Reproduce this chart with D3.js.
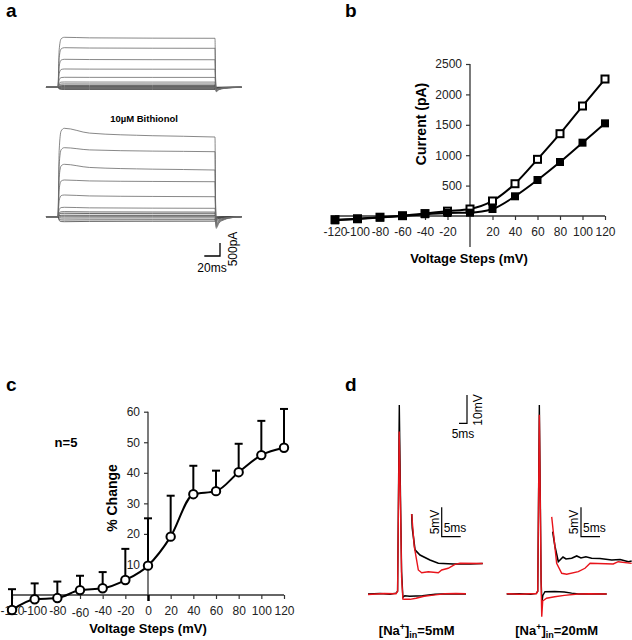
<!DOCTYPE html>
<html><head><meta charset="utf-8">
<script src="https://cdn.jsdelivr.net/npm/d3@7/dist/d3.min.js"></script>
<style>
html,body{margin:0;padding:0;background:#fff;}
svg{display:block;font-family:"Liberation Sans",Arial,Helvetica,sans-serif;}
</style></head>
<body>
<svg id="chart" width="632" height="640"></svg>
<script>
// ---------------- DATA ----------------
// Panel b: I-V relation
const voltages = [-120,-100,-80,-60,-40,-20,0,20,40,60,80,100,120];
const ivOpen   = [-60,-45,-20,5,40,80,115,247,531,932,1354,1809,2253];
const ivFilled = [-70,-50,-25,0,30,50,55,115,324,592,888,1206,1524];
const bYTicks = [500,1000,1500,2000,2500];
const bXTicks = [-120,-100,-80,-60,-40,-20,20,40,60,80,100,120];

// Panel c: % change (mean, upper SEM)
const pctMean = [-4.9,-1.4,-1.0,1.6,2.2,4.9,9.6,19.1,33.0,34.0,40.2,45.8,48.2];
const pctErr  = [6.8,5.2,5.4,4.7,5.3,10.2,15.5,13.4,9.3,6.7,9.3,11.2,12.7];
const cYTicks = [10,20,30,40,50,60];
const cXTicks = [-120,-100,-80,-60,-40,-20,0,20,40,60,80,100,120];

// Panel a: current traces (pA): level at step start, level at step end, tail peak
const ctrlStart = [1923,1523,1077,704,385,204,127,69,31,0,-27,-54,-85];
const ctrlEnd   = [1885,1500,1060,695,380,200,125,68,30,0,-27,-54,-85];
const ctrlTail  = [-170,-150,-130,-110,-90,-70,-55,-40,-30,-20,-10,-5,0];
const bithStart = [3400,2654,2015,1412,835,362,192,131,58,19,-50,-127,-192];
const bithEnd   = [3065,2500,1796,1346,769,323,177,115,50,15,-46,-115,-173];
const bithTail  = [-450,-400,-350,-300,-250,-200,-150,-110,-80,-50,-30,-15,0];
// shared step waveform template (ms) : rise and inactivation weights
const stepT     = [0,1.5,4,8,40,120,200];
const stepRise  = [0,0.75,0.97,1,1,1,1];
const stepDecay = [1,1,1,1,0.45,0.15,0];
const tailT     = [201.5,205,212,222,234];
const tailW     = [1,0.55,0.25,0.08,0];

// Panel d: action potentials [ms, mV rel. baseline]
const apL_ctrl = [[0,0],[7.5,0.2],[13.75,-0.1],[17.5,0.3],[18.5,1],[19.56,67.5],[20.3,35],[21.0,8],[21.8,-1.2],[23,-0.6],[26,-0.8],[34,-0.6],[42,-0.1],[51,0.1],[61.25,0]];
const apL_na   = [[0,-0.2],[10,0.2],[17.5,0.1],[18.5,1],[19.5,58],[20.3,32],[21.0,6],[21.8,-1.8],[23,-1.9],[26.25,-1.9],[30,-1.5],[35,-0.8],[42,-0.3],[48,0.1],[55,0.2],[61.25,0.1]];
const apR_ctrl = [[0,0],[8,0.1],[15,-0.1],[18.5,0.2],[19.4,1],[20.4,67.5],[21.0,35],[21.5,5],[22.0,-3],[22.6,-0.5],[23.9,0.8],[30,0.9],[36,0.7],[40.6,0.3],[45,0],[52,0.1],[62.5,0]];
const apR_na   = [[0,0.1],[8,-0.1],[15,0.1],[18.5,0.1],[19.4,1],[20.4,64],[21.0,32],[21.5,4],[21.9,-8.1],[22.5,-2.5],[24.9,-1.5],[30,-1.0],[36,-0.5],[44.6,0],[52,0.1],[62.5,0]];
// AHP insets [ms, mV]
const ahpL_ctrl = [[0,8.4],[0.16,6.0],[0.87,2.3],[2.18,1.44],[4.8,0.6],[7,0.03],[10.9,-0.08],[15.4,-0.08],[18.7,0]];
const ahpL_na   = [[0,8.4],[0.68,2.85],[1.74,-1.1],[2.63,-1.56],[4.37,-1.39],[7,-1.56],[7.9,-1.1],[9.6,-0.81],[11.4,-0.14],[12.7,0.03],[18.7,0]];
const ahpR_ctrl = [[0.26,5.4],[0.87,2.85],[1.74,0.3],[2.97,1.1],[3.76,0.76],[5.26,0.88],[6.58,1.27],[7.7,0.93],[9.0,1.15],[10.5,0.88],[12.7,0.85],[15.8,0.59],[18,0.68],[20.2,0.3],[21.05,0.42]];
const ahpR_na   = [[0,7.9],[1.3,0.03],[2.63,-1.66],[3.95,-1.83],[7.0,-1.39],[8.76,-0.81],[10.1,0.03],[16.2,-0.08],[17.5,0.3],[21.05,0.03]];

// ---------------- DRAW ----------------
const svg = d3.select("#chart");
svg.append("rect").attr("width",632).attr("height",640).attr("fill","#fff");
const FONT = '"Liberation Sans",Arial,Helvetica,sans-serif';
const fmt = d => String(d);

function panelLabel(t,x,y){
  svg.append("text").attr("x",x).attr("y",y).attr("font-size",19).attr("font-weight","bold").text(t);
}
panelLabel("a",6,17); panelLabel("b",345,17); panelLabel("c",6,391); panelLabel("d",345,391);

// ===== Panel a =====
const xA = d3.scaleLinear().domain([0,200]).range([58,215]);
const pxPerPA = 0.026;
function traceGroup(baseY, starts, ends, tails){
  const yA = d3.scaleLinear().domain([0,1000]).range([baseY, baseY-1000*pxPerPA]);
  const g = svg.append("g");
  const line = d3.line().x(d=>xA(d[0])).y(d=>yA(d[1])).curve(d3.curveMonotoneX);
  const order = d3.range(starts.length).reverse();
  order.forEach(i=>{
    const pts = [[-15.3,0],[-0.01,0]];
    stepT.forEach((t,k)=>{
      pts.push([t, stepRise[k]*(ends[i]+(starts[i]-ends[i])*stepDecay[k])]);
    });
    pts.push([200.6, ends[i]*0.3]);
    tailT.forEach((t,k)=>pts.push([t, tails[i]*tailW[k]]));
    g.append("path").attr("d",line(pts)).attr("fill","none")
      .attr("stroke", i<6 ? "#6a6a6a" : "#444").attr("stroke-width",0.8);
  });
  return yA;
}
traceGroup(87.3, ctrlStart, ctrlEnd, ctrlTail);
traceGroup(216.7, bithStart, bithEnd, bithTail);
svg.append("text").attr("x",144).attr("y",122).attr("text-anchor","middle")
  .attr("font-size",9.5).attr("font-weight","bold").text("10\u00B5M Bithionol");
// scale bar a
{
  const x1 = xA(200)+5, yb = 256;
  const x0 = x1-(xA(20)-xA(0));
  const top = yb-(500*pxPerPA);
  svg.append("path").attr("d",`M${x0},${yb}H${x1}V${top}`).attr("fill","none").attr("stroke","#000").attr("stroke-width",1.3);
  svg.append("text").attr("x",212).attr("y",271.5).attr("text-anchor","middle").attr("font-size",12).text("20ms");
  svg.append("text").attr("transform","translate(237,249) rotate(-90)").attr("text-anchor","middle").attr("font-size",12).text("500pA");
}

// ===== Panel b =====
const xB = d3.scaleLinear().domain([-120,120]).range([335,605]);
const yB = d3.scaleLinear().domain([0,2500]).range([216,64]);
const gb = svg.append("g");
gb.append("line").attr("x1",xB(-120)).attr("x2",xB(120)).attr("y1",yB(0)).attr("y2",yB(0)).attr("stroke","#333").attr("stroke-width",1.3);
gb.append("line").attr("x1",xB(0)).attr("x2",xB(0)).attr("y1",yB(2500)).attr("y2",yB(-510)).attr("stroke","#333").attr("stroke-width",1.3);
const axBx = gb.append("g").attr("transform",`translate(0,${yB(0)})`)
  .call(d3.axisBottom(xB).tickValues(bXTicks).tickSize(4).tickPadding(7).tickFormat(fmt));
const axBy = gb.append("g").attr("transform",`translate(${xB(0)},0)`)
  .call(d3.axisLeft(yB).tickValues(bYTicks).tickSize(4).tickPadding(4).tickFormat(fmt));
[axBx,axBy].forEach(a=>{a.select(".domain").remove();
  a.selectAll("line").attr("stroke","#333").attr("stroke-width",1.2);
  a.selectAll("text").attr("font-size",12).attr("font-family",FONT).attr("fill","#222");});
const lineB = d3.line().x((d,i)=>xB(voltages[i])).y(d=>yB(d)).curve(d3.curveMonotoneX);
gb.append("path").attr("d",lineB(ivOpen)).attr("fill","none").attr("stroke","#000").attr("stroke-width",2);
gb.append("path").attr("d",lineB(ivFilled)).attr("fill","none").attr("stroke","#000").attr("stroke-width",2);
gb.selectAll(".osq").data(ivOpen).enter().append("rect")
  .attr("x",(d,i)=>xB(voltages[i])-3.5).attr("y",d=>yB(d)-3.5).attr("width",7).attr("height",7)
  .attr("fill","#fff").attr("stroke","#000").attr("stroke-width",2);
gb.selectAll(".fsq").data(ivFilled).enter().append("rect")
  .attr("x",(d,i)=>xB(voltages[i])-4).attr("y",d=>yB(d)-4).attr("width",8).attr("height",8).attr("fill","#000");
gb.append("text").attr("transform","translate(426,124) rotate(-90)").attr("text-anchor","middle")
  .attr("font-size",14).attr("font-weight","bold").text("Current (pA)");
gb.append("text").attr("x",469).attr("y",263).attr("text-anchor","middle")
  .attr("font-size",13).attr("font-weight","bold").text("Voltage Steps (mV)");

// ===== Panel c =====
const xC = d3.scaleLinear().domain([-120,120]).range([12,284]);
const yC = d3.scaleLinear().domain([0,60]).range([595,411.7]);
const gc = svg.append("g");
gc.append("line").attr("x1",xC(-120)).attr("x2",xC(120)).attr("y1",yC(0)).attr("y2",yC(0)).attr("stroke","#333").attr("stroke-width",1.3);
gc.append("line").attr("x1",xC(0)).attr("x2",xC(0)).attr("y1",yC(60)).attr("y2",yC(0)).attr("stroke","#333").attr("stroke-width",1.3);
const axCx = gc.append("g").attr("transform",`translate(0,${yC(0)})`)
  .call(d3.axisBottom(xC).tickValues(cXTicks).tickSize(4).tickPadding(7).tickFormat(fmt));
const axCy = gc.append("g").attr("transform",`translate(${xC(0)},0)`)
  .call(d3.axisLeft(yC).tickValues(cYTicks).tickSize(4).tickPadding(4).tickFormat(fmt));
[axCx,axCy].forEach(a=>{a.select(".domain").remove();
  a.selectAll("line").attr("stroke","#333").attr("stroke-width",1.2);
  a.selectAll("text").attr("font-size",12).attr("font-family",FONT).attr("fill","#222");});
axCx.selectAll(".tick").filter(d=>d===0).select("line").attr("stroke","#000").attr("stroke-width",2.5).attr("y2",6);
axCx.selectAll(".tick").filter(d=>d===-60).select("text").attr("y",13.5);
pctMean.forEach((m,i)=>{
  const x = xC(voltages[i]);
  gc.append("line").attr("x1",x).attr("x2",x).attr("y1",yC(m)).attr("y2",yC(m+pctErr[i])).attr("stroke","#000").attr("stroke-width",2);
  gc.append("line").attr("x1",x-4).attr("x2",x+4).attr("y1",yC(m+pctErr[i])).attr("y2",yC(m+pctErr[i])).attr("stroke","#000").attr("stroke-width",2);
});
const lineC = d3.line().x((d,i)=>xC(voltages[i])).y(d=>yC(d)).curve(d3.curveMonotoneX);
gc.append("path").attr("d",lineC(pctMean)).attr("fill","none").attr("stroke","#000").attr("stroke-width",2);
gc.selectAll(".circ").data(pctMean).enter().append("circle")
  .attr("cx",(d,i)=>xC(voltages[i])).attr("cy",d=>yC(d)).attr("r",4.2)
  .attr("fill","#fff").attr("stroke","#000").attr("stroke-width",2);
gc.append("text").attr("x",66).attr("y",447).attr("text-anchor","middle").attr("font-size",13).attr("font-weight","bold").text("n=5");
gc.append("text").attr("transform","translate(117,498) rotate(-90)").attr("text-anchor","middle")
  .attr("font-size",14).attr("font-weight","bold").text("% Change");
gc.append("text").attr("x",148).attr("y",633).attr("text-anchor","middle")
  .attr("font-size",13).attr("font-weight","bold").text("Voltage Steps (mV)");

// ===== Panel d =====
function apPanel(x0, ctrl, na, ix0, ahpC, ahpN){
  const xs = d3.scaleLinear().domain([0,10]).range([x0, x0+16]);
  const ys = d3.scaleLinear().domain([0,10]).range([594, 594-28]);
  const l = d3.line().x(d=>xs(d[0])).y(d=>ys(d[1]));
  svg.append("path").attr("d",l(ctrl)).attr("fill","none").attr("stroke","#000").attr("stroke-width",1.4);
  svg.append("path").attr("d",l(na)).attr("fill","none").attr("stroke","#e8141b").attr("stroke-width",1.4);
  const xi = d3.scaleLinear().domain([0,5]).range([ix0, ix0+19]);
  const yi = d3.scaleLinear().domain([0,5]).range([563.5, 563.5-29.5]);
  const li = d3.line().x(d=>xi(d[0])).y(d=>yi(d[1]));
  svg.append("path").attr("d",li(ahpC)).attr("fill","none").attr("stroke","#000").attr("stroke-width",1.6);
  svg.append("path").attr("d",li(ahpN)).attr("fill","none").attr("stroke","#e8141b").attr("stroke-width",1.4);
}
apPanel(368, apL_ctrl, apL_na, 411.7, ahpL_ctrl, ahpL_na);
apPanel(506.7, apR_ctrl, apR_na, 551.7, ahpR_ctrl, ahpR_na);
function insetBar(x){
  svg.append("path").attr("d",`M${x},507.3V536.7H${x+19}`).attr("fill","none").attr("stroke","#000").attr("stroke-width",1.2);
  svg.append("text").attr("transform",`translate(${x-3},522) rotate(-90)`).attr("text-anchor","middle").attr("font-size",12).text("5mV");
  svg.append("text").attr("x",x+2).attr("y",532).attr("font-size",12).text("5ms");
}
insetBar(441.7); insetBar(581);
svg.append("path").attr("d",`M459,423.3H467V395`).attr("fill","none").attr("stroke","#000").attr("stroke-width",1.2);
svg.append("text").attr("x",463).attr("y",438).attr("text-anchor","middle").attr("font-size",12).text("5ms");
svg.append("text").attr("transform","translate(482,410) rotate(-90)").attr("text-anchor","middle").attr("font-size",12).text("10mV");
function naLabel(cx, conc){
  const t = svg.append("text").attr("x",cx).attr("y",635).attr("text-anchor","middle").attr("font-size",13).attr("font-weight","bold");
  t.append("tspan").text("[Na");
  t.append("tspan").attr("font-size",9).attr("dy",-5).text("+");
  t.append("tspan").attr("dy",5).text("]");
  t.append("tspan").attr("font-size",9).attr("dy",3).text("in");
  t.append("tspan").attr("dy",-3).text("="+conc);
}
naLabel(416.7,"5mM"); naLabel(556.7,"20mM");
</script>
</body></html>
